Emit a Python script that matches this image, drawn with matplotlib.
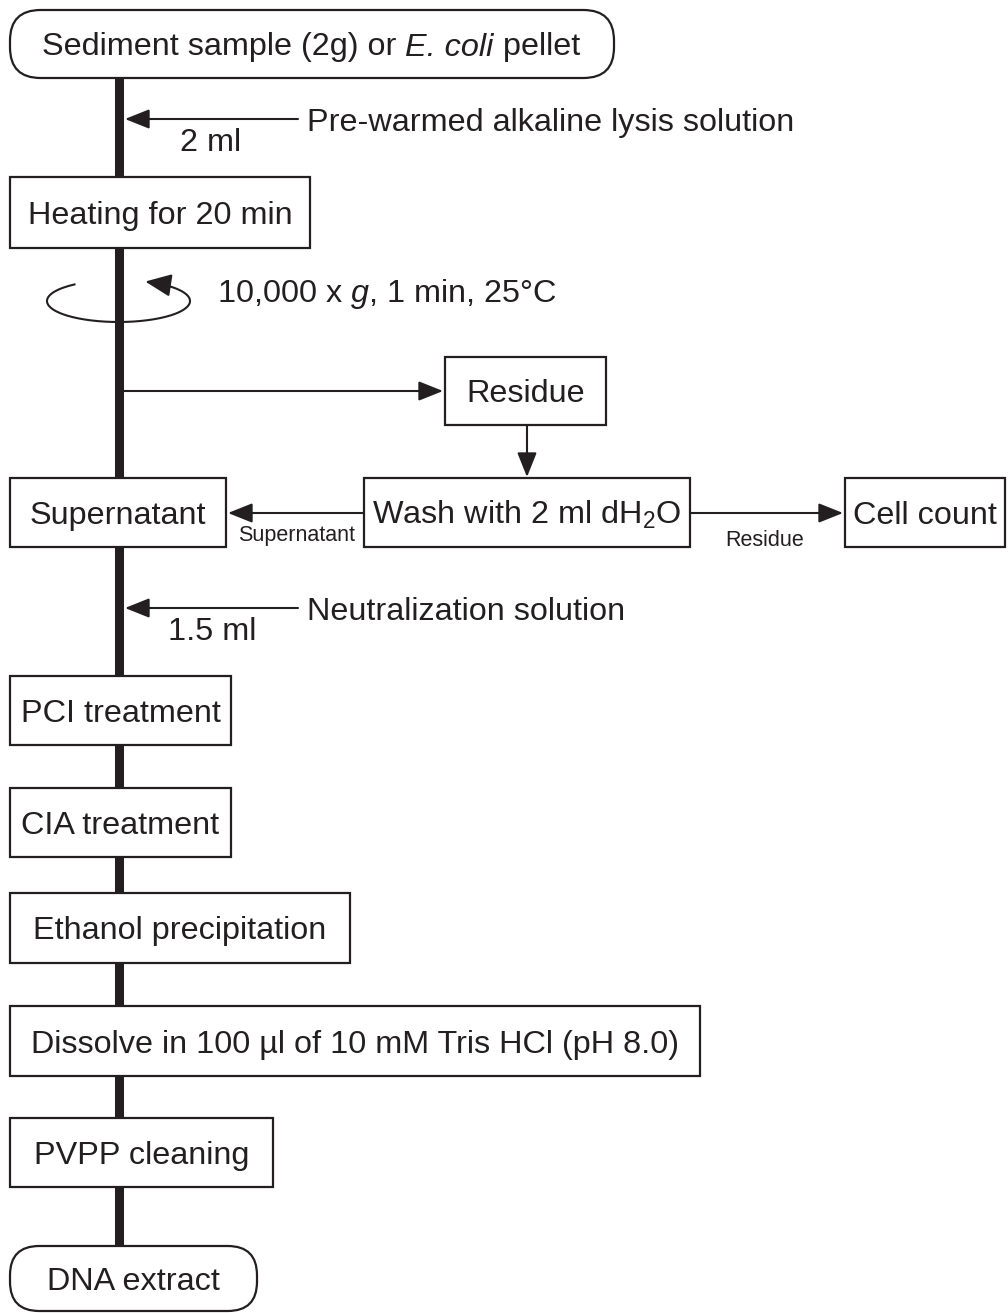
import matplotlib
matplotlib.use("Agg")
import matplotlib.pyplot as plt
from matplotlib.patches import FancyBboxPatch, Rectangle
import numpy as np

plt.rcParams['font.family'] = ['Liberation Sans', 'DejaVu Sans']
plt.rcParams['mathtext.fontset'] = 'custom'
plt.rcParams['mathtext.rm'] = 'Liberation Sans'
plt.rcParams['mathtext.it'] = 'Liberation Sans:italic'

# ---- content ----
start_pieces = ["Sediment sample (2g) or ", "E. coli", " pellet"]
start_styles = ["normal", "italic", "normal"]
end_label = "DNA extract"
main_steps = ["Heating for 20 min", "Supernatant", "PCI treatment", "CIA treatment",
              "Ethanol precipitation", "Dissolve in 100 µl of 10 mM Tris HCl (pH 8.0)",
              "PVPP cleaning"]
side_steps = ["Residue", r"Wash with 2 ml dH$_2$O", "Cell count"]
additions = ["Pre-warmed alkaline lysis solution", "Neutralization solution"]
volumes = ["2 ml", "1.5 ml"]
centrifuge = r"10,000 x $\it{g}$, 1 min, 25°C"
branch_labels = ["Supernatant", "Residue"]

# ---- layout (pixels) ----
C = "#231f20"
FS = 23.3
FS_SMALL = 15.5
LX = 119  # main line x

main_boxes = [(10, 177, 310, 248), (10, 478, 226, 547), (10, 676, 231, 745),
              (10, 788, 231, 857), (10, 893, 350, 963), (10, 1006, 700, 1076),
              (10, 1118, 273, 1187)]
side_boxes = [(445, 357, 606, 425), (364, 478, 690, 547), (845, 478, 1005, 547)]
start_box = (10, 10, 614, 78)
end_box = (10, 1246, 257, 1311)

fig = plt.figure(figsize=(10.08, 13.13), dpi=100)
ax = fig.add_axes([0, 0, 1, 1])
ax.set_xlim(0, 1008)
ax.set_ylim(1313, 0)
ax.axis('off')

# main thick line
ax.plot([LX, LX], [start_box[3], end_box[1]], color=C, lw=6.5, solid_capstyle='butt', zorder=1)

def rect(b, label):
    x0, y0, x1, y1 = b
    ax.add_patch(Rectangle((x0, y0), x1 - x0, y1 - y0, fc='white', ec=C, lw=1.6, zorder=3))
    ax.text((x0 + x1) / 2, (y0 + y1) / 2 + 11.5, label, ha='center', va='baseline',
            fontsize=FS, color=C, zorder=4)

def pill_shape(b):
    x0, y0, x1, y1 = b
    r = (y1 - y0) / 2 * 0.9
    ax.add_patch(FancyBboxPatch((x0, y0), x1 - x0, y1 - y0,
                                boxstyle=f"round,pad=0,rounding_size={r}",
                                fc='white', ec=C, lw=1.6, zorder=3))

def arrow(x0, y0, x1, y1):
    ax.annotate('', xy=(x1, y1), xytext=(x0, y0),
                arrowprops=dict(arrowstyle='-|>,head_length=0.75,head_width=0.3',
                                color=C, lw=1.5, shrinkA=0, shrinkB=0,
                                mutation_scale=20), zorder=2)

# start pill with mixed-style text
pill_shape(start_box)
prev = ax.text(42, (start_box[1] + start_box[3]) / 2 + 11.5, start_pieces[0],
               ha='left', va='baseline', fontsize=FS, color=C, zorder=4,
               fontstyle=start_styles[0])
for piece, st in zip(start_pieces[1:], start_styles[1:]):
    prev = ax.annotate(piece, xy=(1, 0), xycoords=prev, ha='left', va='bottom',
                       fontsize=FS, color=C, zorder=4, fontstyle=st)

pill_shape(end_box)
ax.text((end_box[0] + end_box[2]) / 2, (end_box[1] + end_box[3]) / 2 + 11.5, end_label,
        ha='center', va='baseline', fontsize=FS, color=C, zorder=4)

for b, lab in zip(main_boxes, main_steps):
    rect(b, lab)
for b, lab in zip(side_boxes, side_steps):
    rect(b, lab)

# additions
for ay, lab, vol, vx in zip([119, 608], additions, volumes, [180, 168]):
    arrow(298, ay, LX + 6, ay)
    ax.text(307, ay + 11.5, lab, fontsize=FS, color=C, va='baseline', ha='left')
    ax.text(vx, ay + 32, vol, fontsize=FS, color=C, va='baseline', ha='left')

# centrifuge symbol
cx, cy, a, b = 118.5, 301, 71.5, 21
t = np.radians(np.linspace(128, 418, 200))
ax.plot(cx + a * np.cos(t), cy - b * np.sin(t), color=C, lw=1.5, zorder=0.5)
t_end = np.radians(428)
ax.annotate('', xy=(cx + a * np.cos(t_end), cy - b * np.sin(t_end)),
            xytext=(cx + a * np.cos(t[-1]), cy - b * np.sin(t[-1])),
            arrowprops=dict(arrowstyle='-|>,head_length=0.8,head_width=0.35',
                            color=C, lw=1.5, shrinkA=0, shrinkB=0, mutation_scale=20),
            zorder=2)
ax.text(217, 302, centrifuge, fontsize=FS, color=C, va='baseline', ha='left')

# branch to residue
arrow(LX + 3, 391, 443, 391)
arrow(527, 425, 527, 477)
arrow(364, 513, 228, 513)
arrow(690, 513, 843, 513)
ax.text(297, 541, branch_labels[0], fontsize=FS_SMALL, color=C, ha='center', va='baseline')
ax.text(765, 546, branch_labels[1], fontsize=FS_SMALL, color=C, ha='center', va='baseline')

fig.savefig("out.png", dpi=100, facecolor='white')
